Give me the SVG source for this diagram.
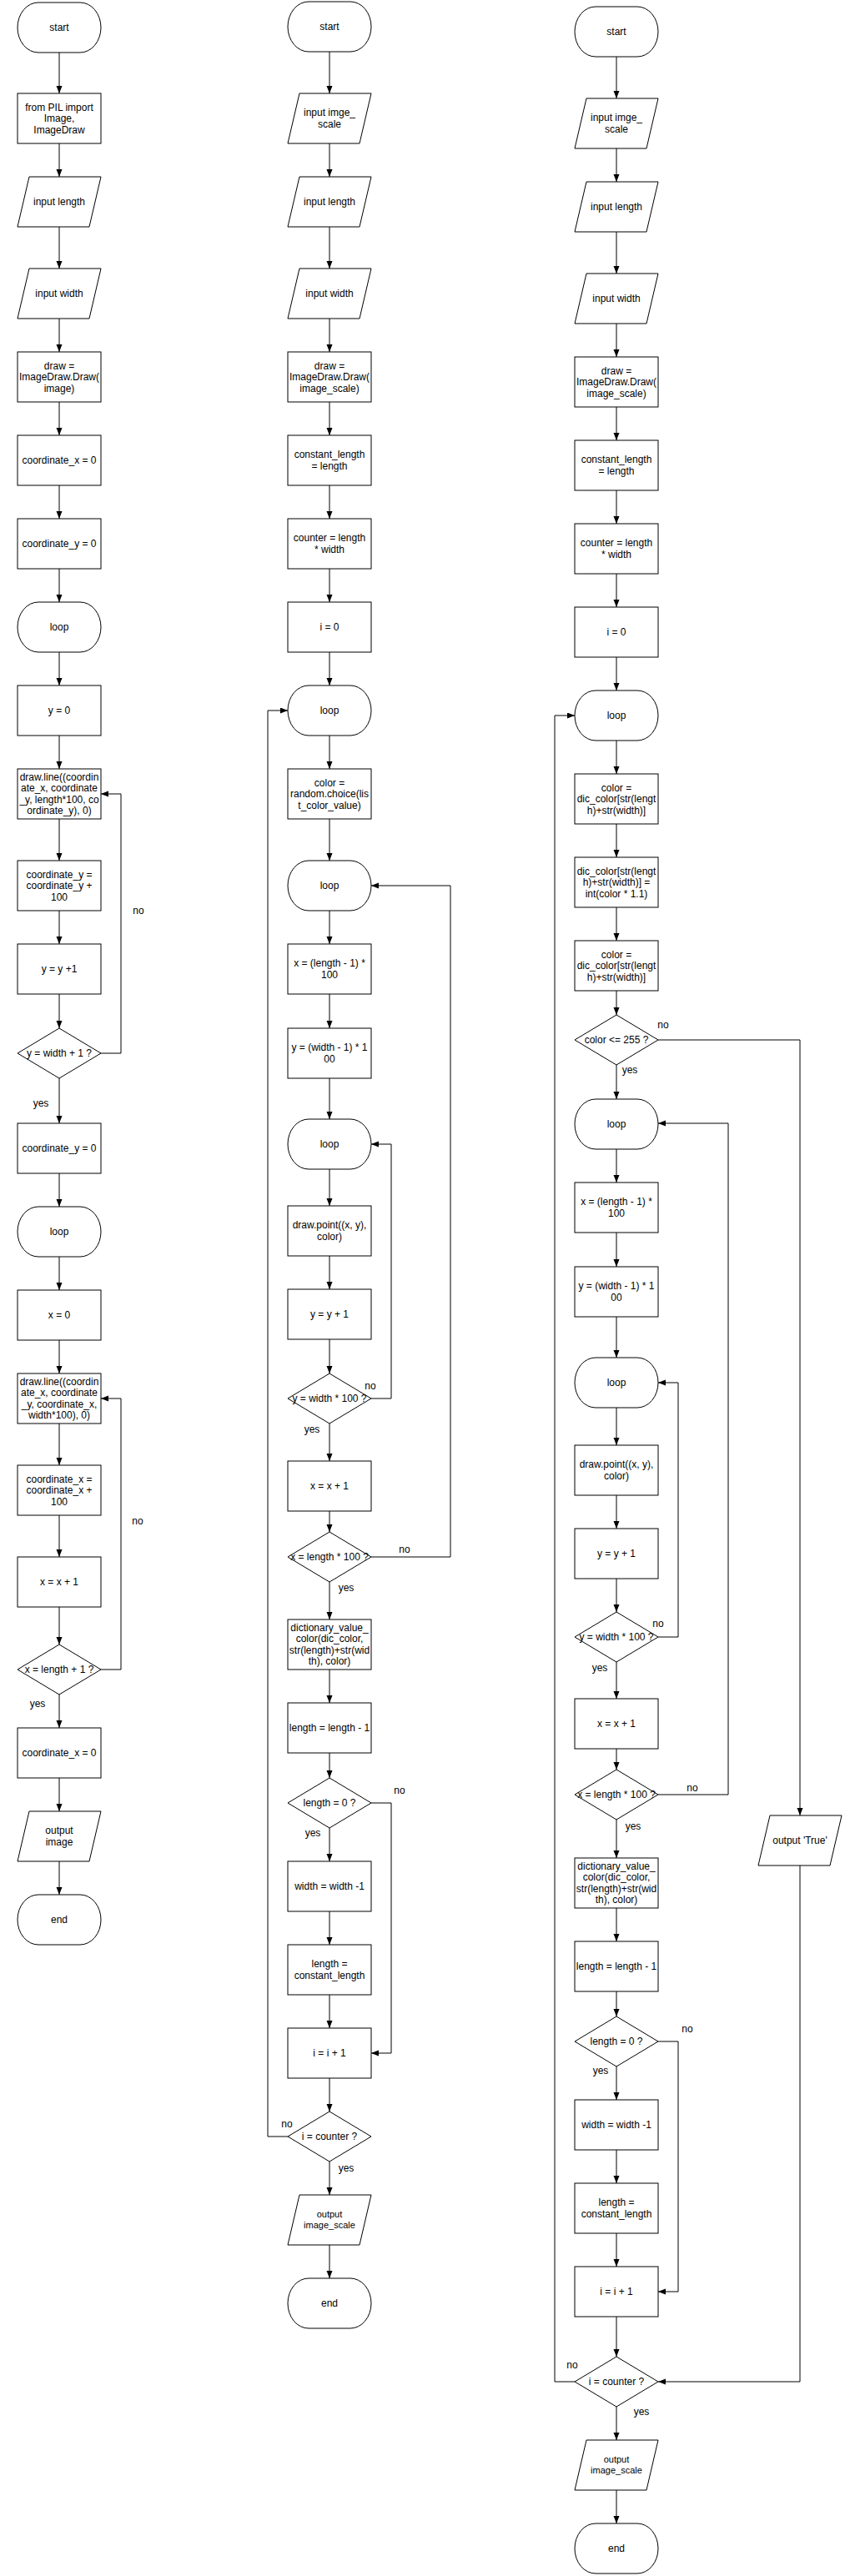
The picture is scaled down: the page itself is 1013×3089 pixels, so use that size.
<svg xmlns="http://www.w3.org/2000/svg" width="1013" height="3089" viewBox="0 0 1013 3089">
<style>
.n{fill:#fff;stroke:#000;stroke-width:1}
.e{fill:none;stroke:#000;stroke-width:1;marker-end:url(#a)}
text{font-family:"Liberation Sans",Arial,sans-serif;font-size:12px;fill:#000;text-anchor:middle}
.s{font-size:11px}
</style>
<defs>
<marker id="a" markerWidth="10" markerHeight="8" refX="9" refY="3.5" orient="auto" markerUnits="userSpaceOnUse"><path d="M0,0 L9,3.5 L0,7 z" fill="#000"/></marker>
</defs>
<rect width="1013" height="3089" fill="#fff"/>

<g id="connectors">
<path class="e" d="M71,63V112"/><path class="e" d="M71,172V212"/><path class="e" d="M71,272V322"/><path class="e" d="M71,382V422"/><path class="e" d="M71,482V522"/><path class="e" d="M71,582V622"/><path class="e" d="M71,682V722"/><path class="e" d="M71,782V822"/><path class="e" d="M71,882V922"/><path class="e" d="M71,982V1032"/><path class="e" d="M71,1092V1132"/><path class="e" d="M71,1192V1233"/><path class="e" d="M71,1293V1347"/><path class="e" d="M71,1407V1447"/><path class="e" d="M71,1507V1547"/><path class="e" d="M71,1607V1647"/><path class="e" d="M71,1707V1757"/><path class="e" d="M71,1817V1867"/><path class="e" d="M71,1927V1972"/><path class="e" d="M71,2032V2072"/><path class="e" d="M71,2132V2172"/><path class="e" d="M71,2232V2272"/>
<path class="e" d="M121,1263H145V952H121"/>
<path class="e" d="M121,2002H145V1677H121"/>

<path class="e" d="M395,62V112"/><path class="e" d="M395,172V212"/><path class="e" d="M395,272V322"/><path class="e" d="M395,382V422"/><path class="e" d="M395,482V522"/><path class="e" d="M395,582V622"/><path class="e" d="M395,682V722"/><path class="e" d="M395,782V822"/><path class="e" d="M395,882V922"/><path class="e" d="M395,982V1032"/><path class="e" d="M395,1092V1132"/><path class="e" d="M395,1192V1233"/><path class="e" d="M395,1293V1342"/><path class="e" d="M395,1402V1446"/><path class="e" d="M395,1506V1546"/><path class="e" d="M395,1606V1647"/><path class="e" d="M395,1707V1752"/><path class="e" d="M395,1812V1837"/><path class="e" d="M395,1897V1942"/><path class="e" d="M395,2002V2042"/><path class="e" d="M395,2102V2132"/><path class="e" d="M395,2192V2232"/><path class="e" d="M395,2292V2332"/><path class="e" d="M395,2392V2432"/><path class="e" d="M395,2492V2532"/><path class="e" d="M395,2592V2632"/><path class="e" d="M395,2692V2732"/>
<path class="e" d="M445,1677H469V1372H445"/>
<path class="e" d="M445,1867H540V1062H445"/>
<path class="e" d="M445,2162H469V2462H445"/>
<path class="e" d="M345,2562H321V852H345"/>

<path class="e" d="M739,68V118"/><path class="e" d="M739,178V218"/><path class="e" d="M739,278V328"/><path class="e" d="M739,388V428"/><path class="e" d="M739,488V528"/><path class="e" d="M739,588V628"/><path class="e" d="M739,688V728"/><path class="e" d="M739,788V828"/><path class="e" d="M739,888V928"/><path class="e" d="M739,988V1028"/><path class="e" d="M739,1088V1128"/><path class="e" d="M739,1188V1217"/><path class="e" d="M739,1277V1318"/><path class="e" d="M739,1378V1418"/><path class="e" d="M739,1478V1519"/><path class="e" d="M739,1579V1628"/><path class="e" d="M739,1688V1733"/><path class="e" d="M739,1793V1833"/><path class="e" d="M739,1893V1933"/><path class="e" d="M739,1993V2037"/><path class="e" d="M739,2097V2122"/><path class="e" d="M739,2182V2228"/><path class="e" d="M739,2288V2328"/><path class="e" d="M739,2388V2418"/><path class="e" d="M739,2478V2518"/><path class="e" d="M739,2578V2618"/><path class="e" d="M739,2678V2718"/><path class="e" d="M739,2778V2826"/><path class="e" d="M739,2886V2926"/><path class="e" d="M739,2986V3026"/>
<path class="e" d="M789,1247H959V2177"/>
<path class="e" d="M959,2237V2856H789"/>
<path class="e" d="M789,1963H813V1658H789"/>
<path class="e" d="M789,2152H873V1347H789"/>
<path class="e" d="M789,2448H813V2748H789"/>
<path class="e" d="M689,2856H665V858H689"/>

<text x="166" y="1096">no</text><text x="49" y="1327">yes</text>
<text x="165" y="1828">no</text><text x="45" y="2047">yes</text>
<text x="444" y="1666">no</text><text x="374" y="1718">yes</text>
<text x="485" y="1862">no</text><text x="415" y="1908">yes</text>
<text x="479" y="2151">no</text><text x="375" y="2202">yes</text>
<text x="344" y="2551">no</text><text x="415" y="2604">yes</text>
<text x="795" y="1233">no</text><text x="755" y="1287">yes</text>
<text x="789" y="1951">no</text><text x="719" y="2004">yes</text>
<text x="830" y="2148">no</text><text x="759" y="2194">yes</text>
<text x="824" y="2437">no</text><text x="720" y="2487">yes</text>
<text x="686" y="2840">no</text><text x="769" y="2896">yes</text>
</g>

<!-- Column 1 -->
<g id="c1-start"><rect class="n" x="21" y="3" width="100" height="60" rx="25" ry="30"/><text x="71" y="37">start</text></g>
<g id="c1-import"><rect class="n" x="21" y="112" width="100" height="60"/><text x="71" y="132.5">from PIL import</text><text x="71" y="146">Image,</text><text x="71" y="159.5">ImageDraw</text></g>
<g id="c1-in-length"><polygon class="n" points="35,212 121,212 107,272 21,272"/><text x="71" y="246">input length</text></g>
<g id="c1-in-width"><polygon class="n" points="35,322 121,322 107,382 21,382"/><text x="71" y="356">input width</text></g>
<g id="c1-draw"><rect class="n" x="21" y="422" width="100" height="60"/><text x="71" y="442.5">draw =</text><text x="71" y="456">ImageDraw.Draw(</text><text x="71" y="469.5">image)</text></g>
<g id="c1-cx0"><rect class="n" x="21" y="522" width="100" height="60"/><text x="71" y="556">coordinate_x = 0</text></g>
<g id="c1-cy0"><rect class="n" x="21" y="622" width="100" height="60"/><text x="71" y="656">coordinate_y = 0</text></g>
<g id="c1-loop1"><rect class="n" x="21" y="722" width="100" height="60" rx="25" ry="30"/><text x="71" y="756">loop</text></g>
<g id="c1-y0"><rect class="n" x="21" y="822" width="100" height="60"/><text x="71" y="856">y = 0</text></g>
<g id="c1-line1"><rect class="n" x="21" y="922" width="100" height="60"/><text x="71" y="935.75">draw.line((coordin</text><text x="71" y="949.25">ate_x, coordinate</text><text x="71" y="962.75">_y, length*100, co</text><text x="71" y="976.25">ordinate_y), 0)</text></g>
<g id="c1-cyinc"><rect class="n" x="21" y="1032" width="100" height="60"/><text x="71" y="1052.5">coordinate_y =</text><text x="71" y="1066">coordinate_y +</text><text x="71" y="1079.5">100</text></g>
<g id="c1-yinc"><rect class="n" x="21" y="1132" width="100" height="60"/><text x="71" y="1166">y = y +1</text></g>
<g id="c1-d1"><polygon class="n" points="71,1233 121,1263 71,1293 21,1263"/><text x="71" y="1267">y = width + 1 ?</text></g>
<g id="c1-cy0b"><rect class="n" x="21" y="1347" width="100" height="60"/><text x="71" y="1381">coordinate_y = 0</text></g>
<g id="c1-loop2"><rect class="n" x="21" y="1447" width="100" height="60" rx="25" ry="30"/><text x="71" y="1481">loop</text></g>
<g id="c1-x0"><rect class="n" x="21" y="1547" width="100" height="60"/><text x="71" y="1581">x = 0</text></g>
<g id="c1-line2"><rect class="n" x="21" y="1647" width="100" height="60"/><text x="71" y="1660.75">draw.line((coordin</text><text x="71" y="1674.25">ate_x, coordinate</text><text x="71" y="1687.75">_y, coordinate_x,</text><text x="71" y="1701.25">width*100), 0)</text></g>
<g id="c1-cxinc"><rect class="n" x="21" y="1757" width="100" height="60"/><text x="71" y="1777.5">coordinate_x =</text><text x="71" y="1791">coordinate_x +</text><text x="71" y="1804.5">100</text></g>
<g id="c1-xinc"><rect class="n" x="21" y="1867" width="100" height="60"/><text x="71" y="1901">x = x + 1</text></g>
<g id="c1-d2"><polygon class="n" points="71,1972 121,2002 71,2032 21,2002"/><text x="71" y="2006">x = length + 1 ?</text></g>
<g id="c1-cx0b"><rect class="n" x="21" y="2072" width="100" height="60"/><text x="71" y="2106">coordinate_x = 0</text></g>
<g id="c1-out"><polygon class="n" points="35,2172 121,2172 107,2232 21,2232"/><text x="71" y="2199.25">output</text><text x="71" y="2212.75">image</text></g>
<g id="c1-end"><rect class="n" x="21" y="2272" width="100" height="60" rx="25" ry="30"/><text x="71" y="2306">end</text></g>

<!-- Column 2 -->
<g id="c2-start"><rect class="n" x="345" y="2" width="100" height="60" rx="25" ry="30"/><text x="395" y="36">start</text></g>
<g id="c2-in-scale"><polygon class="n" points="359,112 445,112 431,172 345,172"/><text x="395" y="139.25">input imge_</text><text x="395" y="152.75">scale</text></g>
<g id="c2-in-length"><polygon class="n" points="359,212 445,212 431,272 345,272"/><text x="395" y="246">input length</text></g>
<g id="c2-in-width"><polygon class="n" points="359,322 445,322 431,382 345,382"/><text x="395" y="356">input width</text></g>
<g id="c2-draw"><rect class="n" x="345" y="422" width="100" height="60"/><text x="395" y="442.5">draw =</text><text x="395" y="456">ImageDraw.Draw(</text><text x="395" y="469.5">image_scale)</text></g>
<g id="c2-const"><rect class="n" x="345" y="522" width="100" height="60"/><text x="395" y="549.25">constant_length</text><text x="395" y="562.75">= length</text></g>
<g id="c2-counter"><rect class="n" x="345" y="622" width="100" height="60"/><text x="395" y="649.25">counter = length</text><text x="395" y="662.75">* width</text></g>
<g id="c2-i0"><rect class="n" x="345" y="722" width="100" height="60"/><text x="395" y="756">i = 0</text></g>
<g id="c2-loop1"><rect class="n" x="345" y="822" width="100" height="60" rx="25" ry="30"/><text x="395" y="856">loop</text></g>
<g id="c2-color"><rect class="n" x="345" y="922" width="100" height="60"/><text x="395" y="942.5">color =</text><text x="395" y="956">random.choice(lis</text><text x="395" y="969.5">t_color_value)</text></g>
<g id="c2-loop2"><rect class="n" x="345" y="1032" width="100" height="60" rx="25" ry="30"/><text x="395" y="1066">loop</text></g>
<g id="c2-x"><rect class="n" x="345" y="1132" width="100" height="60"/><text x="395" y="1159.25">x = (length - 1) *</text><text x="395" y="1172.75">100</text></g>
<g id="c2-y"><rect class="n" x="345" y="1233" width="100" height="60"/><text x="395" y="1260.25">y = (width - 1) * 1</text><text x="395" y="1273.75">00</text></g>
<g id="c2-loop3"><rect class="n" x="345" y="1342" width="100" height="60" rx="25" ry="30"/><text x="395" y="1376">loop</text></g>
<g id="c2-point"><rect class="n" x="345" y="1446" width="100" height="60"/><text x="395" y="1473.25">draw.point((x, y),</text><text x="395" y="1486.75">color)</text></g>
<g id="c2-yinc"><rect class="n" x="345" y="1546" width="100" height="60"/><text x="395" y="1580">y = y + 1</text></g>
<g id="c2-d1"><polygon class="n" points="395,1647 445,1677 395,1707 345,1677"/><text x="395" y="1681">y = width * 100 ?</text></g>
<g id="c2-xinc"><rect class="n" x="345" y="1752" width="100" height="60"/><text x="395" y="1786">x = x + 1</text></g>
<g id="c2-d2"><polygon class="n" points="395,1837 445,1867 395,1897 345,1867"/><text x="395" y="1871">x = length * 100 ?</text></g>
<g id="c2-dict"><rect class="n" x="345" y="1942" width="100" height="60"/><text x="395" y="1955.75">dictionary_value_</text><text x="395" y="1969.25">color(dic_color,</text><text x="395" y="1982.75">str(length)+str(wid</text><text x="395" y="1996.25">th), color)</text></g>
<g id="c2-ldec"><rect class="n" x="345" y="2042" width="100" height="60"/><text x="395" y="2076">length = length - 1</text></g>
<g id="c2-d3"><polygon class="n" points="395,2132 445,2162 395,2192 345,2162"/><text x="395" y="2166">length = 0 ?</text></g>
<g id="c2-wdec"><rect class="n" x="345" y="2232" width="100" height="60"/><text x="395" y="2266">width = width -1</text></g>
<g id="c2-lreset"><rect class="n" x="345" y="2332" width="100" height="60"/><text x="395" y="2359.25">length =</text><text x="395" y="2372.75">constant_length</text></g>
<g id="c2-iinc"><rect class="n" x="345" y="2432" width="100" height="60"/><text x="395" y="2466">i = i + 1</text></g>
<g id="c2-d4"><polygon class="n" points="395,2532 445,2562 395,2592 345,2562"/><text x="395" y="2566">i = counter ?</text></g>
<g id="c2-out"><polygon class="n" points="359,2632 445,2632 431,2692 345,2692"/><text class="s" x="395" y="2659.25">output</text><text class="s" x="395" y="2671.75">image_scale</text></g>
<g id="c2-end"><rect class="n" x="345" y="2732" width="100" height="60" rx="25" ry="30"/><text x="395" y="2766">end</text></g>

<!-- Column 3 -->
<g id="c3-start"><rect class="n" x="689" y="8" width="100" height="60" rx="25" ry="30"/><text x="739" y="42">start</text></g>
<g id="c3-in-scale"><polygon class="n" points="703,118 789,118 775,178 689,178"/><text x="739" y="145.25">input imge_</text><text x="739" y="158.75">scale</text></g>
<g id="c3-in-length"><polygon class="n" points="703,218 789,218 775,278 689,278"/><text x="739" y="252">input length</text></g>
<g id="c3-in-width"><polygon class="n" points="703,328 789,328 775,388 689,388"/><text x="739" y="362">input width</text></g>
<g id="c3-draw"><rect class="n" x="689" y="428" width="100" height="60"/><text x="739" y="448.5">draw =</text><text x="739" y="462">ImageDraw.Draw(</text><text x="739" y="475.5">image_scale)</text></g>
<g id="c3-const"><rect class="n" x="689" y="528" width="100" height="60"/><text x="739" y="555.25">constant_length</text><text x="739" y="568.75">= length</text></g>
<g id="c3-counter"><rect class="n" x="689" y="628" width="100" height="60"/><text x="739" y="655.25">counter = length</text><text x="739" y="668.75">* width</text></g>
<g id="c3-i0"><rect class="n" x="689" y="728" width="100" height="60"/><text x="739" y="762">i = 0</text></g>
<g id="c3-loop1"><rect class="n" x="689" y="828" width="100" height="60" rx="25" ry="30"/><text x="739" y="862">loop</text></g>
<g id="c3-color1"><rect class="n" x="689" y="928" width="100" height="60"/><text x="739" y="948.5">color =</text><text x="739" y="962">dic_color[str(lengt</text><text x="739" y="975.5">h)+str(width)]</text></g>
<g id="c3-dicset"><rect class="n" x="689" y="1028" width="100" height="60"/><text x="739" y="1048.5">dic_color[str(lengt</text><text x="739" y="1062">h)+str(width)] =</text><text x="739" y="1075.5">int(color * 1.1)</text></g>
<g id="c3-color2"><rect class="n" x="689" y="1128" width="100" height="60"/><text x="739" y="1148.5">color =</text><text x="739" y="1162">dic_color[str(lengt</text><text x="739" y="1175.5">h)+str(width)]</text></g>
<g id="c3-d0"><polygon class="n" points="739,1217 789,1247 739,1277 689,1247"/><text x="739" y="1251">color &lt;= 255 ?</text></g>
<g id="c3-loop2"><rect class="n" x="689" y="1318" width="100" height="60" rx="25" ry="30"/><text x="739" y="1352">loop</text></g>
<g id="c3-x"><rect class="n" x="689" y="1418" width="100" height="60"/><text x="739" y="1445.25">x = (length - 1) *</text><text x="739" y="1458.75">100</text></g>
<g id="c3-y"><rect class="n" x="689" y="1519" width="100" height="60"/><text x="739" y="1546.25">y = (width - 1) * 1</text><text x="739" y="1559.75">00</text></g>
<g id="c3-loop3"><rect class="n" x="689" y="1628" width="100" height="60" rx="25" ry="30"/><text x="739" y="1662">loop</text></g>
<g id="c3-point"><rect class="n" x="689" y="1733" width="100" height="60"/><text x="739" y="1760.25">draw.point((x, y),</text><text x="739" y="1773.75">color)</text></g>
<g id="c3-yinc"><rect class="n" x="689" y="1833" width="100" height="60"/><text x="739" y="1867">y = y + 1</text></g>
<g id="c3-d1"><polygon class="n" points="739,1933 789,1963 739,1993 689,1963"/><text x="739" y="1967">y = width * 100 ?</text></g>
<g id="c3-xinc"><rect class="n" x="689" y="2037" width="100" height="60"/><text x="739" y="2071">x = x + 1</text></g>
<g id="c3-d2"><polygon class="n" points="739,2122 789,2152 739,2182 689,2152"/><text x="739" y="2156">x = length * 100 ?</text></g>
<g id="c3-dict"><rect class="n" x="689" y="2228" width="100" height="60"/><text x="739" y="2241.75">dictionary_value_</text><text x="739" y="2255.25">color(dic_color,</text><text x="739" y="2268.75">str(length)+str(wid</text><text x="739" y="2282.25">th), color)</text></g>
<g id="c3-ldec"><rect class="n" x="689" y="2328" width="100" height="60"/><text x="739" y="2362">length = length - 1</text></g>
<g id="c3-d3"><polygon class="n" points="739,2418 789,2448 739,2478 689,2448"/><text x="739" y="2452">length = 0 ?</text></g>
<g id="c3-wdec"><rect class="n" x="689" y="2518" width="100" height="60"/><text x="739" y="2552">width = width -1</text></g>
<g id="c3-lreset"><rect class="n" x="689" y="2618" width="100" height="60"/><text x="739" y="2645.25">length =</text><text x="739" y="2658.75">constant_length</text></g>
<g id="c3-iinc"><rect class="n" x="689" y="2718" width="100" height="60"/><text x="739" y="2752">i = i + 1</text></g>
<g id="c3-d4"><polygon class="n" points="739,2826 789,2856 739,2886 689,2856"/><text x="739" y="2860">i = counter ?</text></g>
<g id="c3-out"><polygon class="n" points="703,2926 789,2926 775,2986 689,2986"/><text class="s" x="739" y="2953.25">output</text><text class="s" x="739" y="2965.75">image_scale</text></g>
<g id="c3-end"><rect class="n" x="689" y="3026" width="100" height="60" rx="25" ry="30"/><text x="739" y="3060">end</text></g>
<g id="c3-true"><polygon class="n" points="923,2177 1009,2177 995,2237 909,2237"/><text x="959" y="2211">output 'True'</text></g>
</svg>
